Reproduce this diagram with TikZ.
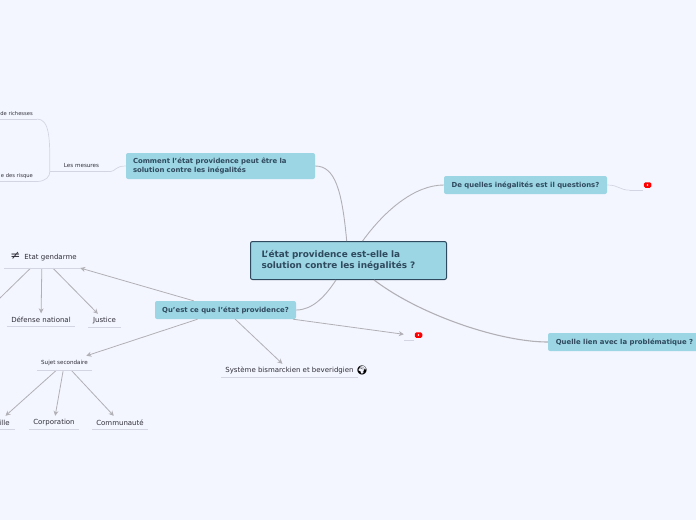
\documentclass[tikz,border=0pt]{standalone}
\usepackage{fontspec}
\setmainfont{DejaVu Sans}
\newfontfamily\emojifont{Noto Emoji}
\usetikzlibrary{arrows.meta}
\definecolor{pagebg}{HTML}{F4F6FF}
\definecolor{boxfill}{HTML}{9CD5E3}
\definecolor{boxtext}{HTML}{2F4A5E}
\definecolor{leaftext}{HTML}{2E2E38}
\definecolor{linkgray}{HTML}{B0B0B6}
\definecolor{rulegray}{HTML}{D3D5E2}
\tikzset{
  topic/.style={fill=boxfill,rounded corners=2pt,text=boxtext,font=\bfseries\fontsize{6.9}{9.6}\selectfont,inner sep=0pt,align=left},
  leaf/.style={text=leaftext,font=\fontsize{7}{8}\selectfont,inner sep=0pt},
  small/.style={text=leaftext,font=\fontsize{5.6}{6}\selectfont,inner sep=0pt},
  edge text/.style={text=leaftext,font=\fontsize{5.2}{6}\selectfont,inner sep=0pt},
  link/.style={draw=linkgray,line width=0.9pt},
  arrowlink/.style={draw=linkgray,line width=0.8pt,-{Stealth[length=5pt,width=5pt]}},
  thinlink/.style={draw=rulegray,line width=0.7pt},
  ytbox/.style={fill=red,rounded corners=1.5pt,minimum width=7.5pt,minimum height=5.5pt,inner sep=0pt},
  ytdot/.style={fill=white,circle,minimum size=1.6pt,inner sep=0pt}
}
\begin{document}
\begin{tikzpicture}[x=1pt,y=-1pt]
\useasboundingbox (0,0) rectangle (696,520);
\clip (0,0) rectangle (696,520);
\fill[pagebg] (0,0) rectangle (696,520);
% main question
\node[topic,draw=boxtext,line width=1pt,font=\bfseries\fontsize{8.9}{11.5}\selectfont,minimum width=196pt,minimum height=38pt,text width=174pt] (main) at (348.5,260.5) {L'état providence est-elle la\\solution contre les inégalités ?};
% branches
\node[topic,minimum width=189pt,minimum height=26pt,text width=175pt] (comment) at (220.5,166) {Comment l'état providence peut être la\\solution contre les inégalités};
\node[topic,minimum width=163pt,minimum height=18pt,align=center] (quelles) at (525.5,185) {De quelles inégalités est il questions?};
\node[topic,minimum width=153pt,minimum height=18pt,align=center] (lien) at (624.5,342) {\raisebox{-0.5pt}{Quelle lien avec la problématique ?}};
\node[topic,minimum width=141pt,minimum height=18pt,align=center] (quest) at (225.5,310) {Qu'est ce que l'état providence?};
% leaves
\node[leaf,minimum width=76pt,minimum height=22pt] (etat) at (42,257) {\raisebox{-2.5pt}{\hspace*{3pt}{\fontsize{12}{12}\selectfont ≠}\hspace{4pt}Etat gendarme}};
\node[leaf,minimum width=68pt,minimum height=13pt] (defense) at (41,320) {Défense national};
\node[leaf,minimum width=33pt,minimum height=13pt] (justice) at (104.5,320.5) {Justice};
\node[small,minimum width=55pt,minimum height=14pt] (sujet) at (64.5,363) {\raisebox{-1.5pt}{Sujet secondaire}};
\node[leaf,minimum width=34pt,minimum height=13pt] (ille) at (-2,422.5) {\hspace*{13pt}ille};
\node[leaf,minimum width=50pt,minimum height=13pt] (corpo) at (54,422.5) {Corporation};
\node[leaf,minimum width=56pt,minimum height=13pt] (commu) at (120,422.5) {Communauté};
\node[leaf,minimum width=137pt,minimum height=13pt] (systeme) at (289.5,370.5) {Système bismarckien et beveridgien};
\node[font=\emojifont\fontsize{9}{9}\selectfont,inner sep=0pt] (globe) at (362,370) {🌍};
\node[small,minimum width=60pt,minimum height=12pt] (mesures) at (80,165.5) {\hspace*{3pt}Les mesures};
\node[edge text,anchor=south east,minimum width=37pt,minimum height=10pt,inner xsep=4pt,align=right] (richesses) at (37,119) {de richesses};
\node[edge text,anchor=south east,minimum width=37pt,minimum height=11pt,inner xsep=4pt,align=right] (risque) at (37,181.5) {e des risque};
% video marks
\node[minimum width=10pt,minimum height=10pt,inner sep=0pt] (videoa) at (409,335) {};
\node[ytbox] (ytonea) at (418.5,335) {};
\node[ytdot] (ydota) at (ytonea) {};
\node[minimum width=13pt,minimum height=10pt,inner sep=0pt] (videob) at (636.5,185) {};
\node[ytbox] (ytoneb) at (647.5,185) {};
\node[ytdot] (ydotb) at (ytoneb) {};
\coordinate (offleft) at (-1,299);
% curves out of the main box
\draw[link] (main) .. controls (342,190) and (335,166) .. (comment.east);
\draw[link] (main) .. controls (385,210) and (415,185) .. (quelles.west);
\draw[link,line width=1.1pt] (main) .. controls (420,315) and (500,342) .. (lien.west);
\draw[link] (main) .. controls (325,297) and (312,310) .. (quest.east);
% straight arrows
\draw[arrowlink] (quest) -- (etat);
\draw[arrowlink] (quest) -- (sujet);
\draw[arrowlink] (quest) -- (systeme);
\draw[arrowlink] (quest) -- (videoa);
\draw[arrowlink] (etat) -- (defense);
\draw[arrowlink] (etat) -- (justice);
\draw[link,line width=0.8pt] (etat) -- (offleft);
\draw[arrowlink] (sujet) -- (ille);
\draw[arrowlink] (sujet) -- (corpo);
\draw[arrowlink] (sujet) -- (commu);
% thin links
\draw[thinlink] (comment.west) .. controls (115,166) and (116,171) .. (mesures.south east);
\draw[thinlink] (mesures.south east) -- (mesures.south west);
\draw[thinlink] (mesures.south west) .. controls (50,140) and (50,119) .. (richesses.south east);
\draw[thinlink] (mesures.south west) .. controls (50,176) and (46,181.5) .. (risque.south east);
\draw[thinlink] (quelles.east) .. controls (619,185) and (619,190) .. (videob.south west);
\draw[thinlink] (videob.south west) -- (videob.south east);
% underlines
\draw[thinlink] (etat.south west) -- (etat.south east);
\draw[thinlink] (defense.south west) -- (defense.south east);
\draw[thinlink] (justice.south west) -- (justice.south east);
\draw[thinlink] (sujet.south west) -- (sujet.south east);
\draw[thinlink] (ille.south west) -- (ille.south east);
\draw[thinlink] (corpo.south west) -- (corpo.south east);
\draw[thinlink] (commu.south west) -- (commu.south east);
\draw[thinlink] (systeme.south west) -- (systeme.south east);
\draw[thinlink] (videoa.south west) -- (videoa.south east);
\draw[thinlink] (richesses.south west) -- (richesses.south east);
\draw[thinlink] (risque.south west) -- (risque.south east);
\end{tikzpicture}
\end{document}
